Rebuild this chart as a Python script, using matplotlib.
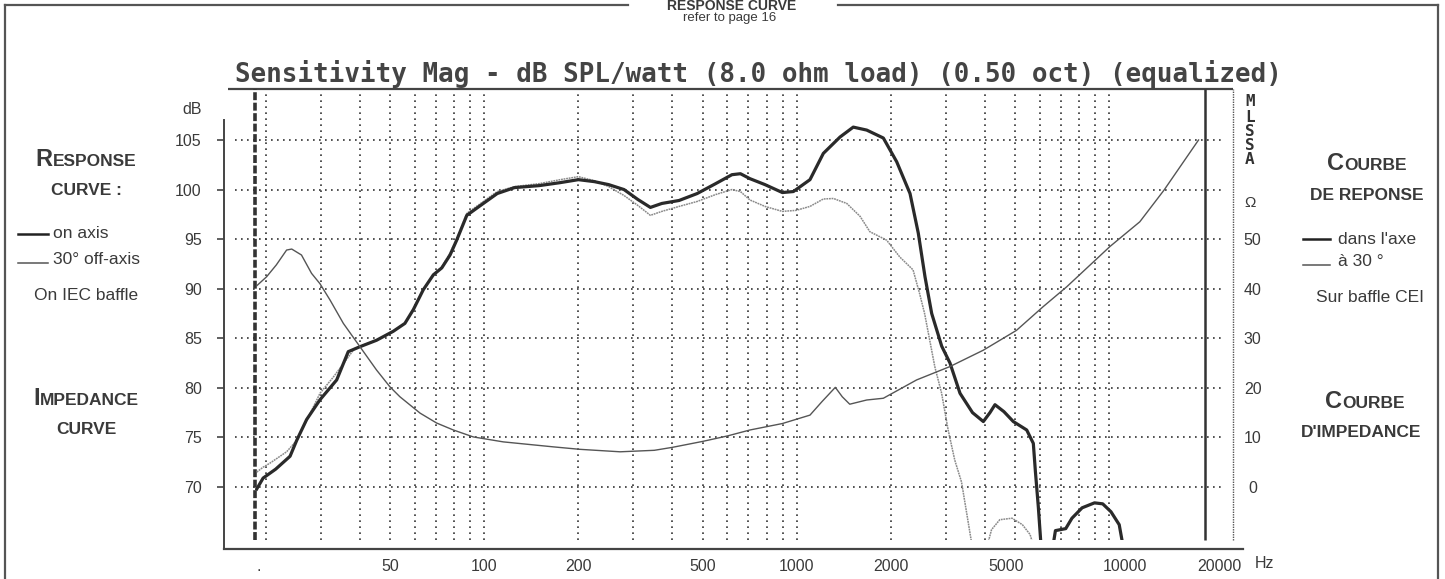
import numpy as np
import matplotlib
matplotlib.use("Agg")
import matplotlib.pyplot as plt
import matplotlib.transforms as mtransforms
from matplotlib.patches import Rectangle
from matplotlib.ticker import FixedLocator, FixedFormatter, NullLocator

# ---------------- data ----------------
on_freq = [18.7, 19.6, 21.5, 23.9, 25.1, 27.0, 29.8, 33.7, 36.7, 40.0, 45.2, 51.1,
           55.7, 59.3, 63.8, 68.7, 73.1, 77.7, 81.6, 87.9, 99.3, 110, 125, 150, 175,
           200, 225, 250, 280, 310, 340, 370, 420, 480, 550, 620, 660, 708, 791, 899,
           975, 1102, 1216, 1375, 1516, 1674, 1892, 2088, 2303, 2448, 2572, 2702,
           2909, 3092, 3329, 3650, 3953, 4150, 4307, 4600, 4930, 5441, 5713, 5800,
           5927, 6050, 6300, 6600, 6724, 7254, 7594, 8185, 8966, 9526, 10125, 10757,
           11000, 11300]
on_db = [69.8, 70.9, 71.8, 73.1, 74.7, 76.8, 78.8, 80.8, 83.65, 84.15, 84.8, 85.7,
         86.5, 87.9, 89.9, 91.4, 92.1, 93.4, 94.9, 97.4, 98.6, 99.6, 100.2, 100.4, 100.7,
         101.0, 100.8, 100.5, 100.0, 99.0, 98.2, 98.6, 98.9, 99.6, 100.6, 101.5, 101.6,
         101.1, 100.5, 99.7, 99.8, 101.0, 103.65, 105.3, 106.3, 106.0, 105.2, 102.8,
         99.6, 95.6, 91.2, 87.5, 84.2, 82.5, 79.45, 77.5, 76.6, 77.5, 78.3, 77.6, 76.6,
         75.75, 74.4, 71.6, 68.0, 64.0, 60.0, 64.0, 65.6, 65.8, 66.85, 67.9, 68.4, 68.3,
         67.5, 66.2, 64.5, 60.0]

off_freq = [18.7, 19.6, 20.6, 23.3, 25.1, 27.7, 29.8, 32.9, 36.7, 38.5, 40.0, 45.2,
            51.1, 55.7, 59.3, 63.8, 68.7, 73.1, 77.7, 81.6, 87.9, 99.3, 110, 125, 150,
            175, 200, 225, 250, 280, 310, 340, 370, 420, 480, 550, 620, 660, 708, 791,
            899, 994, 1102, 1216, 1310, 1445, 1594, 1713, 1938, 2136, 2355, 2472, 2564,
            2663, 2766, 2907, 3050, 3203, 3366, 3620, 3700, 4050, 4110, 4200, 4462, 4885,
            5270, 5580, 5650, 5750]
off_db = [71.5, 72.0, 72.4, 73.55, 74.7, 77.4, 79.45, 81.1, 83.1, 84.0, 84.2, 84.8,
          85.7, 86.5, 87.9, 89.9, 91.4, 92.2, 93.6, 95.1, 97.6, 98.8, 99.8, 100.3, 100.6,
          101.0, 101.3, 100.9, 100.3, 99.4, 98.4, 97.4, 97.8, 98.3, 98.8, 99.5, 100.0,
          99.8, 98.95, 98.3, 97.8, 97.9, 98.3, 99.05, 99.1, 98.6, 97.3, 95.75, 94.9,
          93.2, 91.9, 89.5, 87.5, 84.8, 82.1, 79.45, 75.75, 72.7, 70.5, 64.5, 62.0, 62.0,
          64.6, 65.7, 66.7, 66.85, 66.2, 65.2, 64.6, 62.0]

imp_freq = [18.7, 20.1, 21.6, 23.3, 24.2, 26.0, 28.0, 29.8, 32.1, 35.4, 40.0, 45.2,
            49.9, 53.7, 62.3, 70.4, 79.6, 92.2, 115, 166, 202, 272, 350, 400, 500, 600,
            708, 899, 1102, 1203, 1328, 1398, 1477, 1674, 1892, 2418, 3092, 3953, 5047,
            6148, 7311, 10042, 12520, 14970, 19300]
imp_ohm = [40.6, 42.4, 44.8, 47.8, 48.0, 46.8, 43.1, 41.0, 37.7, 33.0, 28.3, 23.6,
           20.2, 18.2, 14.9, 12.9, 11.5, 10.1, 9.1, 8.1, 7.6, 7.1, 7.4, 8.0, 9.2, 10.3,
           11.5, 12.8, 14.5, 17.2, 20.1, 18.2, 16.7, 17.55, 17.9, 21.6, 24.3, 27.6, 31.6,
           36.4, 40.4, 48.5, 53.5, 59.9, 70.0]

db_ticks = [70, 75, 80, 85, 90, 95, 100, 105]
ohm_ticks = [0, 10, 20, 30, 40, 50]
hz_ticks = [19, 50, 100, 200, 500, 1000, 2000, 5000, 10000, 20000]
hz_labels = [".", "50", "100", "200", "500", "1000", "2000", "5000", "10000", "20000"]
grid_hz = [20, 30, 40, 50, 60, 70, 80, 90, 100, 200, 300, 400, 500, 600, 700, 800,
           900, 1000, 2000, 3000, 4000, 5000, 6000, 7000, 8000, 9000, 10000]
title_text = "Sensitivity Mag - dB SPL/watt (8.0 ohm load) (0.50 oct) (equalized)"

# ---------------- layout helpers (pixel geometry) ----------------
W, H, DPI = 1445, 579, 100
SANS = ["Liberation Sans", "DejaVu Sans"]
MONO = ["DejaVu Sans Mono"]
INK = "#3a3a3a"
# printed labels sit a little off their grid lines in the reference (pixels)
label_shift = {"5000": -9, "10000": 16, "20000": 16}


def FX(px):
    return 100 * 10 ** ((px - 484.3) / 312.5)


def DB(py):
    return 105 - (py - 140) / 9.914


def fxy(x, y):
    return x / W, 1 - y / H


fig = plt.figure(figsize=(W / DPI, H / DPI), dpi=DPI)
fig.patch.set_facecolor("white")

L, R, T, B = 224, 1243, 89, 549
ax = fig.add_axes([L / W, 1 - B / H, (R - L) / W, (B - T) / H])
ax.set_facecolor("none")
ax.set_xscale("log")
ax.set_xlim(FX(L), FX(R))
ax.set_ylim(DB(B), DB(T))

for s in ["top", "right"]:
    ax.spines[s].set_visible(False)
ax.spines["left"].set_bounds(DB(B), DB(120))
ax.spines["left"].set_linewidth(1.4)
ax.spines["left"].set_color("#444")
ax.spines["bottom"].set_linewidth(1.6)
ax.spines["bottom"].set_color("#444")

# grid
y_bot = DB(540)
ax.vlines(grid_hz, y_bot, DB(T), colors="#333", linewidth=1.2,
          linestyles=[(0, (1, 2.6))], zorder=1)
ax.hlines(db_ticks, FX(235), FX(1223), colors="#333", linewidth=1.2,
          linestyles=[(0, (1, 2.6))], zorder=1)

# frame of the measurement plot
ax.plot([FX(228), FX(1233)], [DB(T), DB(T)], color="#444", lw=1.6, clip_on=False,
        solid_capstyle="butt")
ax.vlines([FX(255)], y_bot, DB(T), colors="#333", linewidth=2.6,
          linestyles=[(0, (2.2, 0.7))], zorder=2)
ax.vlines([FX(1205)], y_bot, DB(T), colors="#333", linewidth=1.8, zorder=2)
ax.vlines([FX(1233)], y_bot, DB(T), colors="#555", linewidth=1.0,
          linestyles=[(0, (1, 0.8))], zorder=2)

clip = Rectangle((FX(255), y_bot), FX(1205) - FX(255), DB(T) - y_bot,
                 transform=ax.transData, facecolor="none", edgecolor="none")
ax.add_patch(clip)

l_off, = ax.plot(off_freq, off_db, color="#8a8a8a", lw=1.1, zorder=3,
                 linestyle=(0, (1.2, 0.5)))
l_on, = ax.plot(on_freq, on_db, color="#2a2a2a", lw=2.3, zorder=4)
l_off.set_clip_path(clip)
l_on.set_clip_path(clip)

# impedance on its own (right) scale
ax2 = ax.twinx()
ax2.set_position(ax.get_position())
ax2.set_ylim((DB(B) - 70) * 2, (DB(T) - 70) * 2)
for s in ax2.spines.values():
    s.set_visible(False)
ax2.set_yticks(ohm_ticks)
ax2.set_yticklabels([str(v) for v in ohm_ticks])
ax2.tick_params(axis="y", length=0, pad=7, labelsize=11.5, labelcolor=INK)
for lab in ax2.get_yticklabels():
    lab.set_fontfamily(SANS)
    lab.set_horizontalalignment("center")
l_imp, = ax2.plot(imp_freq, imp_ohm, color="#555", lw=1.0, zorder=3)
clip2 = Rectangle((FX(255), (y_bot - 70) * 2), FX(1205) - FX(255),
                  (DB(T) - y_bot) * 2, transform=ax2.transData,
                  facecolor="none", edgecolor="none")
ax2.add_patch(clip2)
l_imp.set_clip_path(clip2)

# ticks of the main axes (set after the twin so nothing resets them)
ax.set_xlim(FX(L), FX(R))
ax.yaxis.set_major_locator(FixedLocator(db_ticks))
ax.yaxis.set_major_formatter(FixedFormatter([str(v) for v in db_ticks]))
ax.xaxis.set_major_locator(FixedLocator(hz_ticks))
ax.xaxis.set_major_formatter(FixedFormatter(hz_labels))
ax.xaxis.set_minor_locator(NullLocator())
ax.yaxis.set_minor_locator(NullLocator())
ax.tick_params(axis="y", direction="out", length=5.2, width=1.2, color="#444",
               pad=10.8, labelsize=11.5, labelcolor=INK)
ax.tick_params(axis="x", length=0, pad=7, labelsize=11.5, labelcolor=INK)
for lab in ax.get_yticklabels() + ax.get_xticklabels():
    lab.set_fontfamily(SANS)
for lab_text, tick in zip(hz_labels, ax.xaxis.get_major_ticks()):
    if lab_text in label_shift:
        off = mtransforms.ScaledTranslation(label_shift[lab_text] / DPI, 0,
                                            fig.dpi_scale_trans)
        tick.label1.set_transform(tick.label1.get_transform() + off)

# ---------------- texts ----------------
fig.text(*fxy(234.7, 81.5), title_text, family=MONO, fontsize=18.6, weight="bold",
         color="#444", ha="left", va="baseline")
fig.text(*fxy(202, 110), "dB", family=SANS, fontsize=11.5, color=INK, ha="right",
         va="center")
fig.text(*fxy(1250, 203), "\u03a9", family=SANS, fontsize=11, color=INK, ha="center",
         va="center")
fig.text(*fxy(1264, 564), "Hz", family=SANS, fontsize=11.5, color=INK, ha="center",
         va="center")
for ch, yy in zip("MLSSA", [101, 117, 131, 145, 160]):
    fig.text(*fxy(1250, yy), ch, family=MONO, fontsize=11.5, weight="bold",
             color="#333", ha="center", va="center")

fig.canvas.draw()
renderer = fig.canvas.get_renderer()


def small_caps(xc, yb, word, big=17, small=12.5):
    t1 = fig.text(0, 0, word[0], family=SANS, fontsize=big, weight="bold", color=INK,
                  va="baseline")
    t2 = fig.text(0, 0, word[1:], family=SANS, fontsize=small, weight="bold",
                  color=INK, va="baseline")
    w1 = t1.get_window_extent(renderer).width
    w2 = t2.get_window_extent(renderer).width
    x0 = xc - (w1 + w2) / 2
    t1.set_position(fxy(x0, yb))
    t2.set_position(fxy(x0 + w1, yb))


def caps(xc, yb, word, size=12.5):
    fig.text(*fxy(xc, yb), word, family=SANS, fontsize=size, weight="bold", color=INK,
             ha="center", va="baseline")


# left block
small_caps(86, 166, "RESPONSE")
caps(86, 195, "CURVE :")
fig.add_artist(plt.Line2D([18 / W, 48 / W], [1 - 234 / H, 1 - 234 / H], color="#222",
                          lw=1.8))
fig.text(*fxy(53, 238.5), "on axis", family=SANS, fontsize=12.5, color=INK,
         va="baseline")
fig.add_artist(plt.Line2D([18 / W, 48 / W], [1 - 263 / H, 1 - 263 / H], color="#555",
                          lw=1.1))
fig.text(*fxy(53, 263.5), "30\u00b0 off-axis", family=SANS, fontsize=12.5, color=INK,
         va="baseline")
fig.text(*fxy(86, 299.5), "On IEC baffle", family=SANS, fontsize=12.5, color=INK,
         ha="center", va="baseline")
small_caps(86, 405, "IMPEDANCE")
caps(86, 433.5, "CURVE")

# right block
small_caps(1367, 170, "COURBE")
caps(1367, 199.5, "DE REPONSE")
fig.add_artist(plt.Line2D([1303 / W, 1330 / W], [1 - 239 / H, 1 - 239 / H],
                          color="#222", lw=1.8))
fig.text(*fxy(1338, 243.5), "dans l'axe", family=SANS, fontsize=12.5, color=INK,
         va="baseline")
fig.add_artist(plt.Line2D([1303 / W, 1330 / W], [1 - 265 / H, 1 - 265 / H],
                          color="#555", lw=1.1))
fig.text(*fxy(1338, 266.5), "\u00e0 30 \u00b0", family=SANS, fontsize=12.5, color=INK,
         va="baseline")
fig.text(*fxy(1370, 302), "Sur baffle CEI", family=SANS, fontsize=12.5, color=INK,
         ha="center", va="baseline")
small_caps(1365, 408.5, "COURBE")
caps(1361, 437, "D'IMPEDANCE")

# outer frame and header
frame_kw = dict(color="#555", lw=1.6)
fig.add_artist(plt.Line2D([5 / W, 5 / W], [0, 1 - 5 / H], **frame_kw))
fig.add_artist(plt.Line2D([1438 / W, 1438 / W], [0, 1 - 5 / H], **frame_kw))
fig.add_artist(plt.Line2D([5 / W, 628 / W], [1 - 5 / H, 1 - 5 / H], **frame_kw))
fig.add_artist(plt.Line2D([838 / W, 1438 / W], [1 - 5 / H, 1 - 5 / H], **frame_kw))
fig.text(*fxy(732, 5.5), "RESPONSE CURVE", family=SANS, fontsize=10, weight="bold",
         color=INK, ha="center", va="center")
fig.text(*fxy(730, 18), "refer to page 16", family=SANS, fontsize=9.5, color=INK,
         ha="center", va="center")

fig.savefig("out.png", dpi=DPI, facecolor="white")
